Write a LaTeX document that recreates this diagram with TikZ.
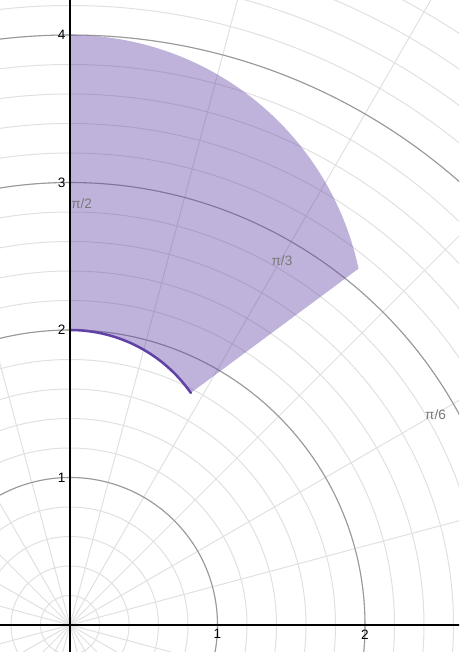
\documentclass[tikz,border=0pt]{standalone}
\usepackage{fontspec}
\setmainfont{Liberation Sans}
\usetikzlibrary{calc}
\definecolor{dpurple}{HTML}{6042A6}
\definecolor{minorgrid}{HTML}{E0E0E0}
\definecolor{majorgrid}{HTML}{989898}
\definecolor{anglelbl}{HTML}{787878}
\begin{document}
\begin{tikzpicture}[x=110.625pt,y=110.625pt,
  minor/.style={draw=minorgrid,line width=0.75pt},
  major/.style={draw=majorgrid,line width=0.8pt},
  axisline/.style={draw=black,line width=1.3pt},
  axislbl/.style={font=\fontsize{10.2}{12}\selectfont, text=black, inner sep=0pt},
  anglbl/.style={font=\fontsize{10.2}{12}\selectfont, text=anglelbl, inner sep=0pt},
  region/.style={fill=dpurple, fill opacity=0.4},
  boundary/.style={draw=dpurple, line width=1.9pt, line cap=round}]
\useasboundingbox (-0.4746,-0.1831) rectangle (2.6373,4.2373);
\begin{scope}
  \clip (-0.4746,-0.1831) rectangle (2.6373,4.2373);
  % minor circles
  \foreach \i in {1,...,26} \draw[minor] (0,0) circle[radius=\i/5];
  % radial lines every 15 degrees
  \foreach \a in {15,30,...,165} \draw[minor] (\a+180:6) -- (\a:6);
  % major circles
  \foreach \r in {1,2,3,4} \draw[major] (0,0) circle[radius=\r];
  % shaded region
  \coordinate (innertop) at (0,2);
  \coordinate (outertop) at (0,4);
  \coordinate (outercorner) at ($(0,2)+(12:2)$);
  \fill[region] (innertop) arc[start angle=90, end angle=35, radius=1]
      -- (outercorner) arc[start angle=12, end angle=90, radius=2] -- cycle;
  \draw[boundary] (innertop) arc[start angle=90, end angle=35, radius=1];
  % axes
  \coordinate (xl) at (-0.6,0);
  \coordinate (xr) at (2.8,0);
  \coordinate (yb) at (0,-0.3);
  \coordinate (yt) at (0,4.4);
  \draw[axisline] (xl) -- (xr);
  \draw[axisline] (yb) -- (yt);
\end{scope}
% axis labels
\node[axislbl, anchor=north] (x1) at (1,-0.029) {1};
\node[axislbl, anchor=north] (x2) at (2,-0.029) {2};
\foreach \r in {1,2,3,4} \node[axislbl, anchor=east] (y\r) at (-0.029,\r) {\r};
% angle labels
\node[anglbl] (a2) at (0.079,2.854) {π/2};
\node[anglbl] (a3) at (1.437,2.473) {π/3};
\node[anglbl] (a6) at (2.478,1.426) {π/6};
\end{tikzpicture}
\end{document}
